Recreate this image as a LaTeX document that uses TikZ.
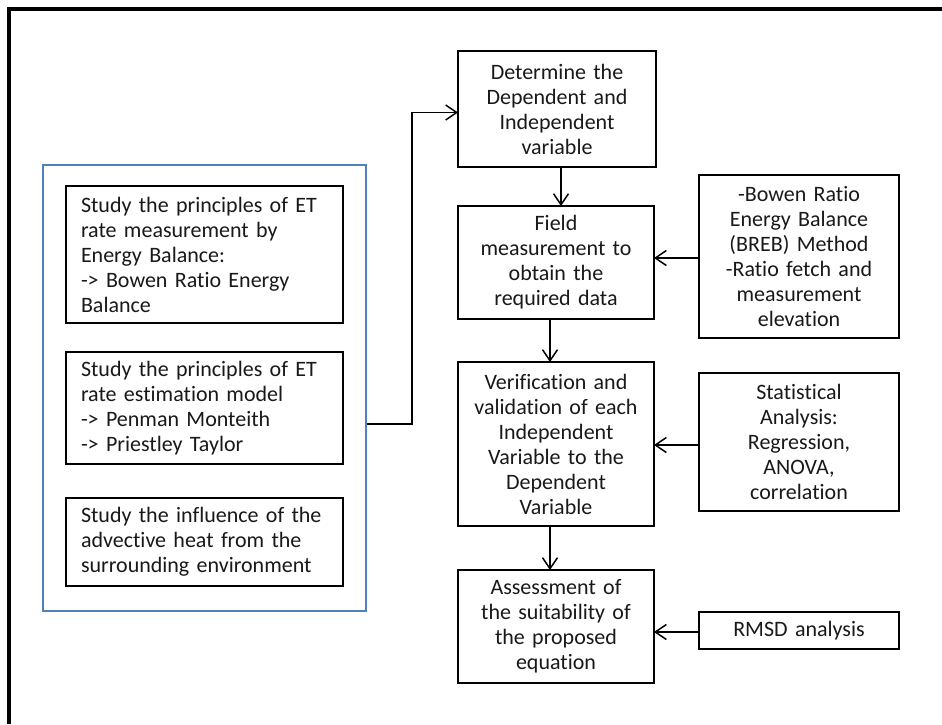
\documentclass[tikz,border=0pt]{standalone}
\usepackage{fontspec}
\setmainfont{Carlito}[Ligatures={NoCommon}]
\usetikzlibrary{arrows.meta}
\definecolor{framblue}{RGB}{79,129,189}
\tikzset{
  box/.style={draw=black, line width=1.6pt, inner sep=0pt, outer sep=0pt, font=\fontsize{22}{25}\selectfont, text=black!90},
  cbox/.style={box, align=center},
  lbox/.style={box, align=left, inner xsep=15pt},
  arr/.style={line width=1.5pt, -{Straight Barb[length=11pt,width=15pt,line width=1.5pt]}},
  conn/.style={line width=1.5pt}
}
\begin{document}
\begin{tikzpicture}[x=1pt,y=-1pt]
\useasboundingbox (0,0) rectangle (942,724);
\fill[white] (0,0) rectangle (942,724);
\draw[line width=3.5pt] (9,724) -- (9,8.75) -- (942,8.75);

% left group
\node[draw=framblue, line width=1.4pt, minimum width=323pt, minimum height=446pt, inner sep=0pt] (grp) at (204.5,388) {};
\node[lbox, text width=247pt, minimum height=137pt] (s1) at (204.5,254.5)
  {\mbox{Study the principles of ET}\\\mbox{rate measurement by}\\\mbox{Energy Balance:}\\\mbox{-> Bowen Ratio Energy}\\\mbox{Balance}};
\node[lbox, text width=247pt, minimum height=112pt] (s2) at (204.5,408)
  {\mbox{Study the principles of ET}\\\mbox{rate estimation model}\\\mbox{-> Penman Monteith}\\\mbox{-> Priestley Taylor}};
\node[lbox, text width=247pt, minimum height=88pt] (s3) at (204.5,542)
  {\mbox{Study the influence of the}\\\mbox{advective heat from the}\\\mbox{surrounding environment}};

% main column
\node[cbox, text width=198pt, minimum height=116pt] (det) at (557,109)
  {Determine the\\Dependent and\\Independent\\variable};
\node[cbox, text width=196pt, minimum height=113pt] (field) at (556,262.5)
  {Field\\measurement to\\obtain the\\required data};
\node[cbox, text width=196pt, minimum height=164pt] (ver) at (556,444)
  {Verification and\\validation of each\\Independent\\Variable to the\\Dependent\\Variable};
\node[cbox, text width=196pt, minimum height=113pt] (ass) at (556,626.5)
  {Assessment of\\the suitability of\\the proposed\\equation};

% right column
\node[cbox, text width=200pt, minimum height=163pt] (bow) at (799,256.5)
  {-Bowen Ratio\\Energy Balance\\(BREB) Method\\-Ratio fetch and\\measurement\\elevation};
\node[cbox, text width=200pt, minimum height=138pt] (stat) at (799,442)
  {Statistical\\Analysis:\\Regression,\\ANOVA,\\correlation};
\node[cbox, text width=200pt, minimum height=37pt] (rmsd) at (799,630.5)
  {RMSD analysis};

% connectors
\coordinate (j1) at (412,424);
\coordinate (j2) at (412,112.5);
\draw[arr] (j1 -| grp.east) -- (j1) -- (j2) -- (j2 -| det.west);
\draw[arr] ([xshift=4pt]det.south) -- ([xshift=4pt]det.south |- field.north);
\draw[arr] ([xshift=-6pt]field.south) -- ([xshift=-6pt]field.south |- ver.north);
\draw[arr] ([xshift=-6pt]ver.south) -- ([xshift=-6pt]ver.south |- ass.north);
\draw[arr] ([yshift=-1.5pt]bow.west) -- ([yshift=-1.5pt]bow.west -| field.east);
\draw[arr] ([yshift=-3pt]stat.west) -- ([yshift=-3pt]stat.west -| ver.east);
\draw[arr] ([yshift=-1.5pt]rmsd.west) -- ([yshift=-1.5pt]rmsd.west -| ass.east);
\end{tikzpicture}
\end{document}
